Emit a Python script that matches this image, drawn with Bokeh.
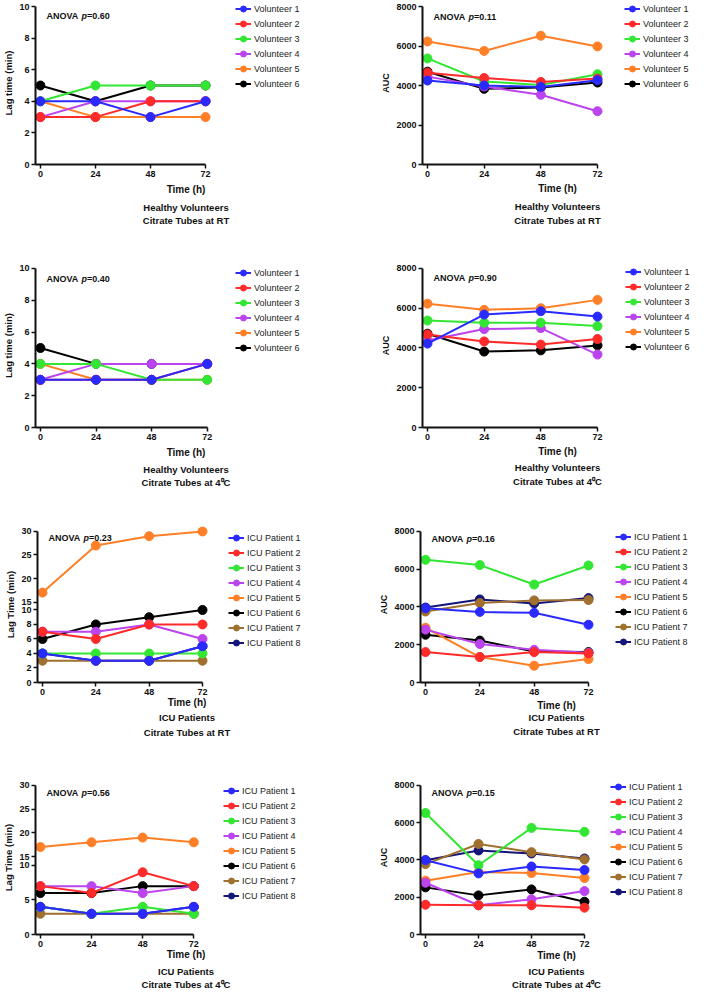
from bokeh.plotting import figure
from bokeh.models import Range1d, LinearAxis, FixedTicker, Legend, LegendItem, Label
from bokeh.layouts import row, column
from bokeh.embed import file_html
from bokeh.resources import INLINE

FONT = "Liberation Sans"
TXT = "#111111"

# ---------------- data ----------------
times = [0, 24, 48, 72]
volunteers = ["Volunteer 1", "Volunteer 2", "Volunteer 3", "Volunteer 4", "Volunteer 5", "Volunteer 6"]
icu_patients = ["ICU Patient 1", "ICU Patient 2", "ICU Patient 3", "ICU Patient 4",
                "ICU Patient 5", "ICU Patient 6", "ICU Patient 7", "ICU Patient 8"]
vol_colors = ["#2a2aff", "#ff2a2a", "#33e633", "#bb44ee", "#ff7f27", "#000000"]
icu_colors = ["#2a2aff", "#ff2a2a", "#33e633", "#bb44ee", "#ff7f27", "#000000", "#a0702e", "#14147a"]

lag_ticks = [0, 2, 4, 6, 8, 10]
lag_ticks_icu_4c = [0, 5, 10]
upper_ticks = [15, 20, 25, 30]
auc_ticks = [0, 2000, 4000, 6000, 8000]

hv_rt_lag = [[4, 4, 3, 4], [3, 3, 4, 4], [4, 5, 5, 5], [3, 4, 4, 4], [4, 3, 3, 3], [5, 4, 5, 5]]
hv_rt_auc = [[4250, 4000, 3930, 4270], [4650, 4380, 4180, 4350], [5370, 4200, 4030, 4570],
             [4450, 3950, 3530, 2700], [6230, 5750, 6520, 5980], [4700, 3830, 3900, 4150]]
hv_4c_lag = [[3, 3, 3, 4], [3, 3, 3, 4], [4, 4, 3, 3], [3, 4, 4, 4], [4, 3, 3, 3], [5, 4, 4, 4]]
hv_4c_auc = [[4220, 5680, 5850, 5580], [4680, 4330, 4170, 4450], [5380, 5270, 5270, 5100],
             [4380, 4950, 5000, 3670], [6230, 5920, 6000, 6420], [4720, 3820, 3880, 4130]]
icu_rt_lag = [[4, 3, 3, 5], [7, 6, 8, 8], [4, 4, 4, 4], [7, 7, 8, 6],
              [17, 27, 29, 30], [6, 8, 9, 10], [3, 3, 3, 3], [4, 3, 3, 5]]
icu_rt_auc = [[3930, 3740, 3690, 3060], [1610, 1350, 1610, 1540], [6500, 6220, 5190, 6200],
              [2800, 2040, 1730, 1570], [2900, 1350, 890, 1240], [2530, 2220, 1640, 1610],
              [3760, 4210, 4350, 4370], [3970, 4400, 4190, 4470]]
icu_4c_lag = [[4, 3, 3, 4], [7, 6, 9, 7], [4, 3, 4, 3], [7, 7, 6, 7],
              [17, 18, 19, 18], [6, 6, 7, 7], [3, 3, 3, 3], [4, 3, 3, 4]]
icu_4c_auc = [[3990, 3280, 3650, 3460], [1600, 1570, 1570, 1440], [6520, 3720, 5720, 5510],
              [2780, 1570, 1890, 2330], [2890, 3350, 3300, 3030], [2530, 2100, 2420, 1760],
              [3780, 4860, 4420, 4030], [3990, 4510, 4350, 4080]]

anova_p = ["0.60", "0.11", "0.40", "0.90", "0.23", "0.16", "0.56", "0.15"]
captions = [("Healthy Volunteers", "Citrate Tubes at RT"), ("Healthy Volunteers", "Citrate Tubes at RT"),
            ("Healthy Volunteers", "Citrate Tubes at 4\u2070C"), ("Healthy Volunteers", "Citrate Tubes at 4\u2070C"),
            ("ICU Patients", "Citrate Tubes at RT"), ("ICU Patients", "Citrate Tubes at RT"),
            ("ICU Patients", "Citrate Tubes at 4\u2070C"), ("ICU Patients", "Citrate Tubes at 4\u2070C")]


def style_axis(ax, ticks, size="9px"):
    ax.ticker = FixedTicker(ticks=ticks)
    ax.axis_line_width = 2
    ax.axis_line_color = TXT
    ax.major_tick_line_width = 1.5
    ax.major_tick_line_color = TXT
    ax.major_tick_out = 4
    ax.major_tick_in = 0
    ax.minor_tick_line_color = None
    ax.minor_tick_out = 0
    ax.minor_tick_in = 0
    ax.major_label_text_font = FONT
    ax.major_label_text_font_style = "bold"
    ax.major_label_text_font_size = size
    ax.major_label_text_color = TXT
    ax.major_label_standoff = 2
    ax.axis_label_text_font = FONT
    ax.axis_label_text_font_style = "bold"
    ax.axis_label_text_color = TXT


def set_standoff(ax, st):
    try:
        ax.axis_label_standoff = int(st)
    except ValueError:
        ax.axis_label_standoff = 0


PAD = 5
TIME_C0 = 22.8   # centre of "Time (h)" below the axis line with zero standoff
AX_SIZE0 = 28.8  # size of the tick axis with zero label standoff
CAP_PRE = 2.0
CAP_H = 11.4


def caption_axis(text, bounds, st):
    a = LinearAxis(bounds=bounds, axis_label=text)
    style_axis(a, [])
    a.axis_line_color = None
    a.major_tick_line_color = None
    a.major_tick_out = 0
    set_standoff(a, st)
    a.axis_label_text_font_size = "9.5px"
    return a


def make_panel(spec, data, names, colors, pval, caps):
    W, H = spec["W"], spec["H"]
    ax0, x72, y0 = spec["ax"], spec["x72"], spec["y0"]
    broken = "y30" in spec
    frame_top = (spec["y30"] if broken else spec["ytop"]) - PAD
    frame_right = W
    sx = (x72 - ax0 - PAD) / 72.0
    x_range = Range1d(-PAD / sx, 72 + (frame_right - x72) / sx)
    if broken:
        s_lo = (y0 - spec["y10"]) / 10.0
        y_range = Range1d(0, (y0 - frame_top) / s_lo)
        s_up = (spec["y15"] - spec["y30"]) / 15.0
        upper = Range1d(15 - (y0 - spec["y15"]) / s_up, 30 + PAD / s_up)
        ticks = list(spec["ticks"])
        overrides = {}
        for t in spec["ticks"]:
            overrides[t] = str(t)
            overrides[str(t)] = str(t)
        for v in upper_ticks:
            pos = round((y0 - (spec["y15"] - (v - 15) * s_up)) / s_lo, 4)
            ticks.append(pos)
            overrides[pos] = str(v)
            overrides[str(pos)] = str(v)
        top_bound = max(ticks)
    else:
        s = (y0 - spec["ytop"]) / float(spec["top"])
        y_range = Range1d(0, spec["top"] + PAD / s)
        ticks = spec["ticks"]
        top_bound = spec["top"]

    p = figure(width=W, height=H, x_range=x_range, y_range=y_range,
               output_backend="svg", toolbar_location=None,
               x_axis_location=None, y_axis_location=None,
               min_border_left=int(ax0), min_border_right=int(W - frame_right),
               min_border_top=int(frame_top), min_border_bottom=int(H - y0))
    p.outline_line_color = None
    p.grid.grid_line_color = None
    if broken:
        p.extra_y_ranges = {"upper": upper}

    yax = LinearAxis(bounds=(0, top_bound), axis_label=spec["ylabel"])
    style_axis(yax, ticks)
    if broken:
        yax.major_label_overrides = overrides
    yax.axis_label_standoff = 2
    yax.axis_label_text_font_size = spec.get("ylsize", "9.5px")
    p.add_layout(yax, "left")

    xb = (x_range.start, 72)
    s0 = round(spec["time_dy"] - TIME_C0)
    xax = LinearAxis(bounds=xb, axis_label="Time (h)")
    style_axis(xax, times)
    set_standoff(xax, s0)
    xax.axis_label_text_font_size = "10px"
    p.add_layout(xax, "below")
    end0 = AX_SIZE0 + s0
    s1 = round(spec["cap_dy"][0] - end0 - CAP_PRE - CAP_H / 2)
    end1 = end0 + CAP_PRE + s1 + CAP_H
    s2 = round(spec["cap_dy"][1] - end1 - CAP_PRE - CAP_H / 2)
    p.add_layout(caption_axis(caps[0], xb, s1), "below")
    p.add_layout(caption_axis(caps[1], xb, s2), "below")

    rends = {}
    for i in reversed(range(len(data))):
        vals = data[i]
        kw = {}
        if broken and min(vals) >= 15:
            kw["y_range_name"] = "upper"
        ln = p.line(times, vals, line_width=2, line_color=colors[i], **kw)
        sc = p.scatter(times, vals, size=9, marker="circle", fill_color=colors[i],
                       line_color=colors[i], **kw)
        rends[i] = [ln, sc]

    n = len(names)
    item_h = 15
    leg_top = max(spec["leg_top"], frame_top)
    leg_bottom = leg_top + n * item_h
    items = [LegendItem(label=names[i], renderers=rends[i]) for i in range(n)]
    legend = Legend(items=items, location=(spec["leg_x"] - ax0, y0 - leg_bottom),
                    glyph_width=16, glyph_height=item_h, label_height=item_h,
                    label_standoff=3, spacing=0, padding=0, margin=0,
                    border_line_color=None, background_fill_alpha=0,
                    label_text_font=FONT, label_text_font_size="9px", label_text_color="#222222")
    p.add_layout(legend)

    yname = "upper" if broken else "default"
    ytop_val = 30 if broken else spec["top"]
    for txt, off, style in [("ANOVA ", 6, "bold"), ("p", 41, "bold italic"), ("=" + pval, 46.5, "bold")]:
        p.add_layout(Label(x=0, y=ytop_val, y_range_name=yname, x_offset=off,
                           y_offset=-spec["anova_dy"], text=txt, text_font=FONT,
                           text_font_style=style, text_font_size="9px",
                           text_baseline="middle", text_color=TXT))
    return p


LW, RW = 336, 356
specs = [
    dict(W=LW, H=240, ax=28, x72=202, ytop=6, y0=164, top=10, ticks=lag_ticks, ylabel="Lag time (min)",
         leg_x=228, leg_top=0, anova_dy=9, time_dy=27, cap_dy=(44, 57)),
    dict(W=RW, H=240, ax=86, x72=261, ytop=6, y0=164, top=8000, ticks=auc_ticks, ylabel="AUC", ylsize="9px",
         leg_x=288, leg_top=0, anova_dy=10, time_dy=26, cap_dy=(44, 57)),
    dict(W=LW, H=252, ax=31, x72=205, ytop=27, y0=187, top=10, ticks=lag_ticks, ylabel="Lag time (min)",
         leg_x=231, leg_top=25, anova_dy=11, time_dy=27, cap_dy=(43, 56)),
    dict(W=RW, H=252, ax=86, x72=261, ytop=28, y0=188, top=8000, ticks=auc_ticks, ylabel="AUC", ylsize="9px",
         leg_x=289, leg_top=25, anova_dy=10, time_dy=26, cap_dy=(42, 55)),
    dict(W=LW, H=252, ax=37, x72=202, y30=38, y15=109, y10=117, y0=190, ticks=lag_ticks, ylabel="Lag Time (min)",
         leg_x=228, leg_top=38, anova_dy=7, time_dy=22, cap_dy=(37, 51)),
    dict(W=RW, H=252, ax=84, x72=252, ytop=39, y0=191, top=8000, ticks=auc_ticks, ylabel="AUC", ylsize="9px",
         leg_x=279, leg_top=38, anova_dy=8, time_dy=25, cap_dy=(37, 50)),
    dict(W=LW, H=248, ax=28, x72=190, y30=40, y15=112, y10=121, y0=191, ticks=lag_ticks_icu_4c,
         ylabel="Lag Time (min)", leg_x=216, leg_top=40, anova_dy=8, time_dy=22, cap_dy=(39, 51)),
    dict(W=RW, H=248, ax=84, x72=248, ytop=41, y0=191, top=8000, ticks=auc_ticks, ylabel="AUC", ylsize="9px",
         leg_x=274, leg_top=34, anova_dy=8, time_dy=23, cap_dy=(39, 51)),
]
datasets = [hv_rt_lag, hv_rt_auc, hv_4c_lag, hv_4c_auc, icu_rt_lag, icu_rt_auc, icu_4c_lag, icu_4c_auc]

panels = []
for k in range(8):
    if k < 4:
        nm, cl = volunteers, vol_colors
    else:
        nm, cl = icu_patients, icu_colors
    panels.append(make_panel(specs[k], datasets[k], nm, cl, anova_p[k], captions[k]))

layout = column(row(panels[0], panels[1]), row(panels[2], panels[3]),
                row(panels[4], panels[5]), row(panels[6], panels[7]))

open("out.html", "w").write(file_html(layout, INLINE))
